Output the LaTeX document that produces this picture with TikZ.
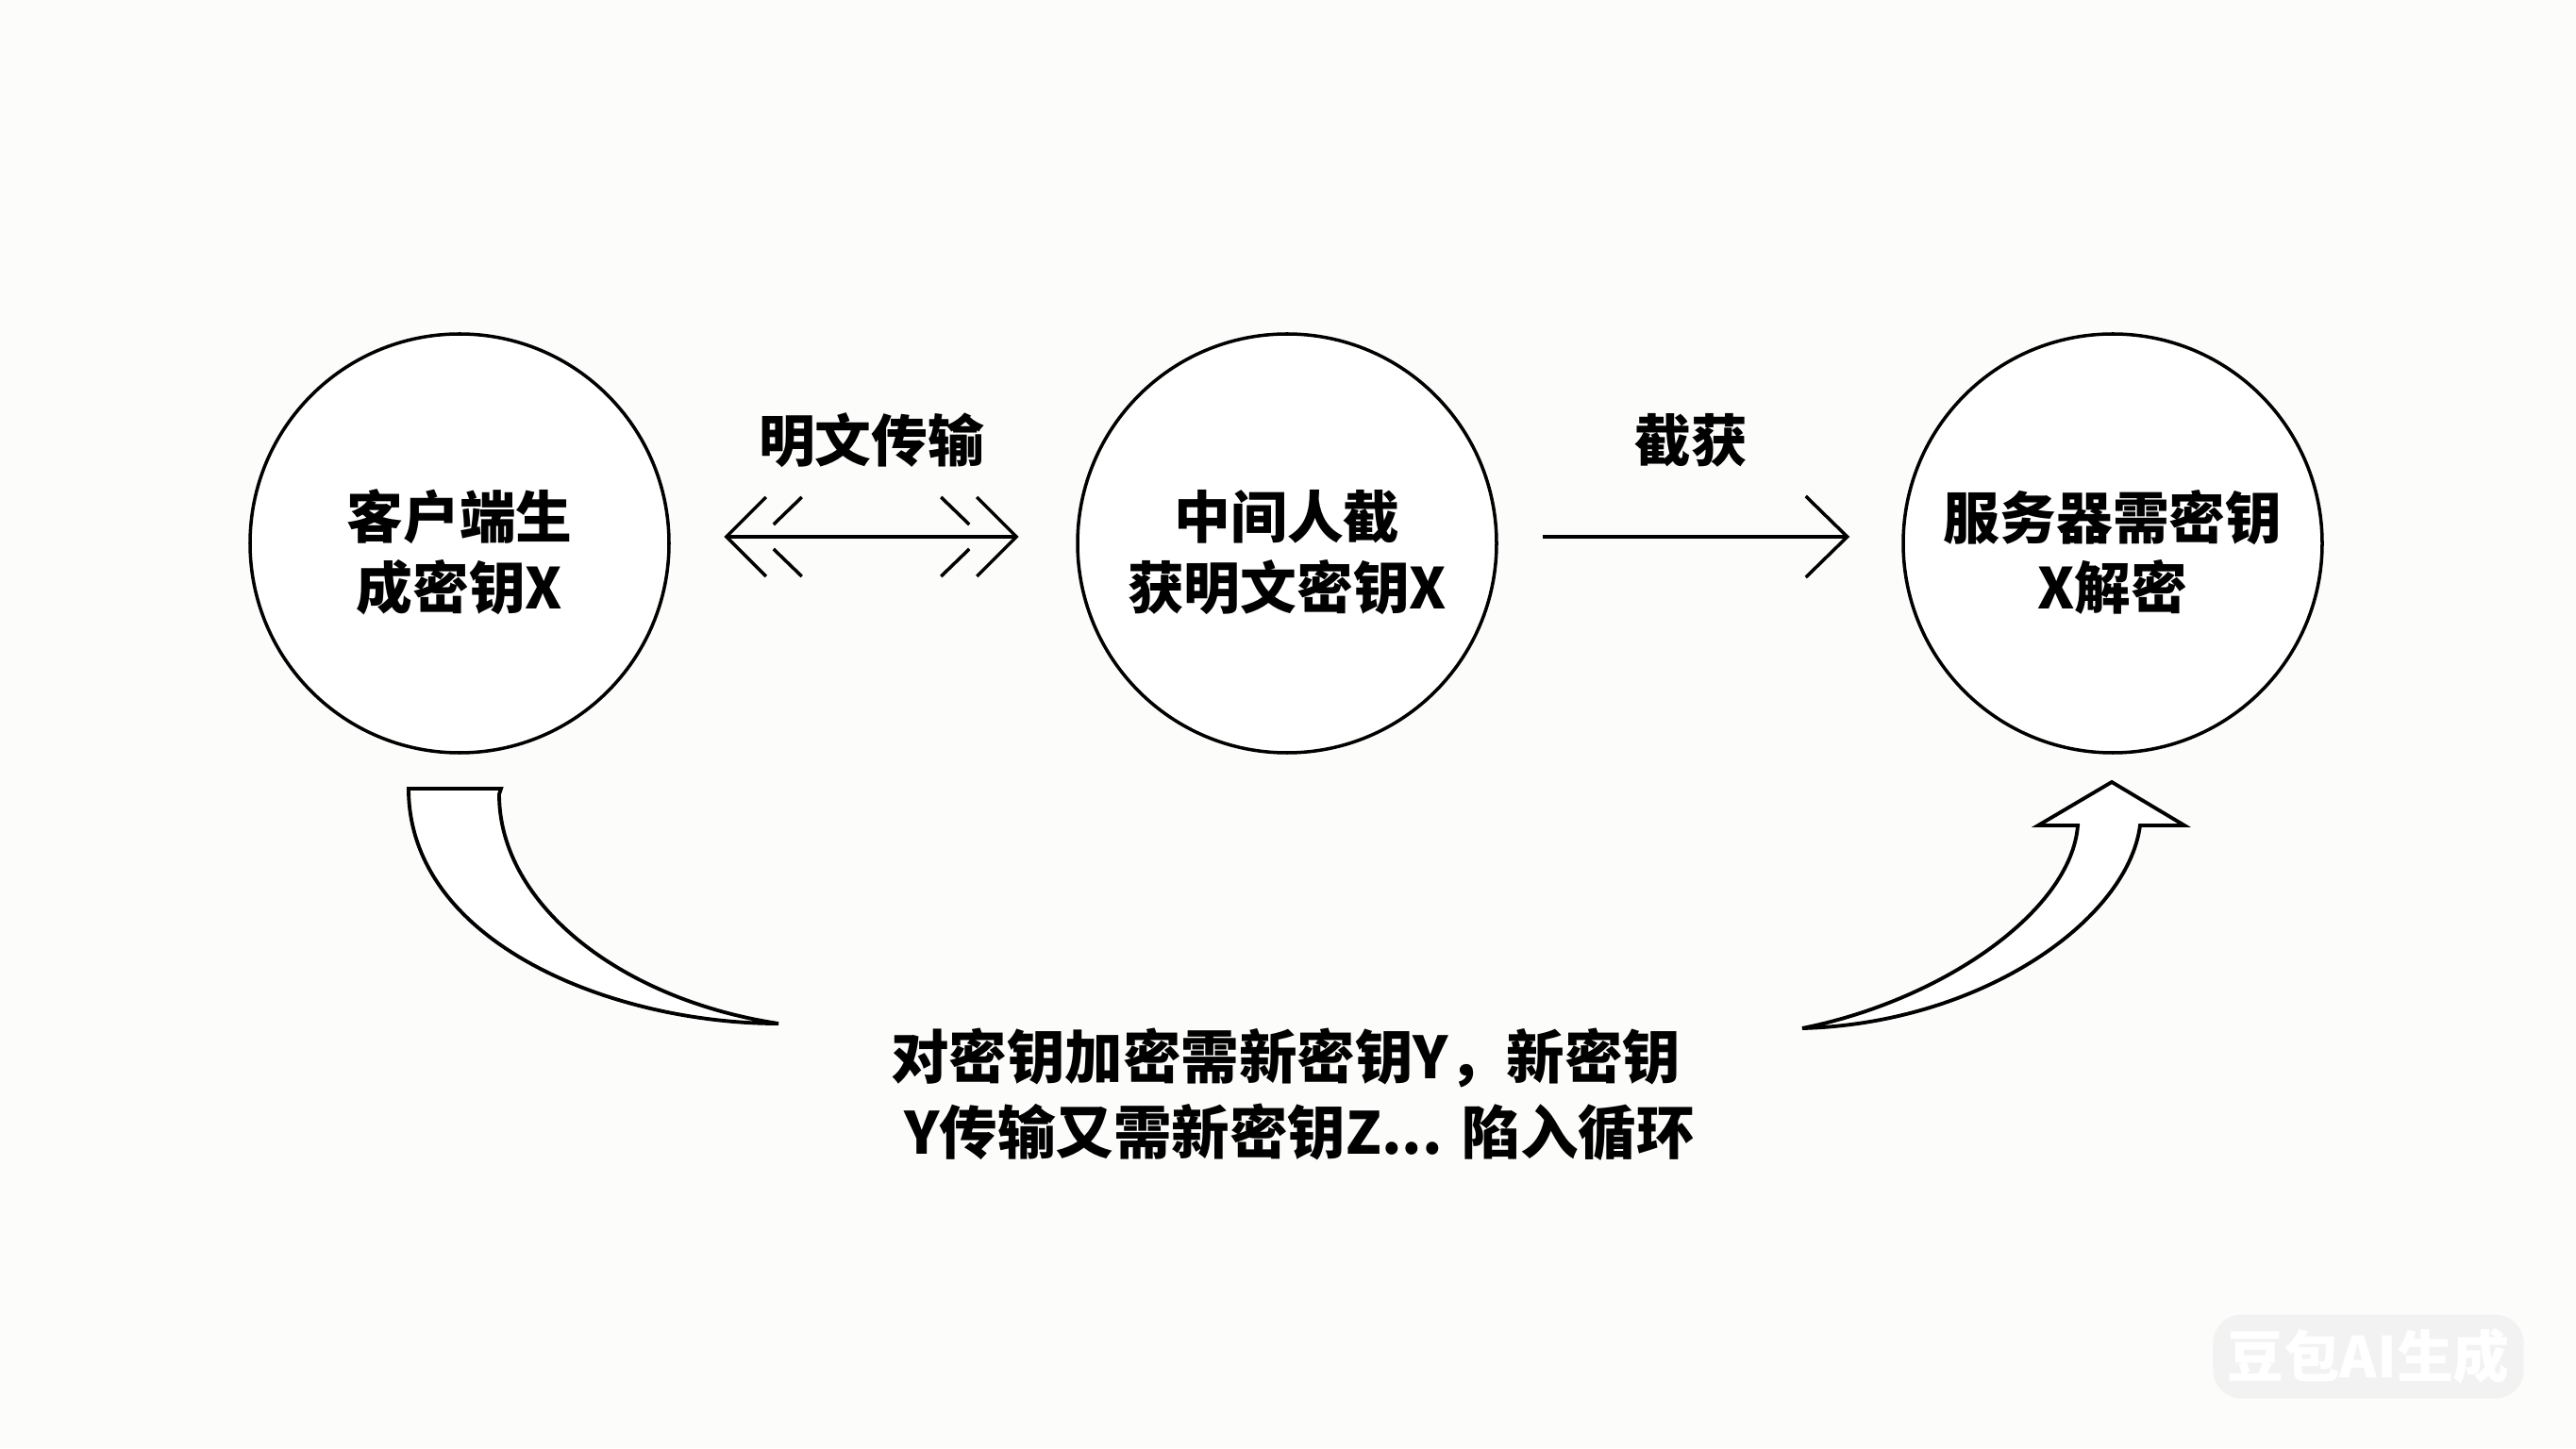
\documentclass[tikz,border=0pt]{standalone}
\usepackage{fontspec}
\newfontfamily\cjk{Noto Sans CJK SC}
\usetikzlibrary{arrows.meta}
\definecolor{paper}{RGB}{252,252,250}
\newcommand\topgap{\rule{0pt}{7.1mm}}
\begin{document}
\begin{tikzpicture}[
    line/.style={line width=1pt},
    stage/.style={circle,draw,line width=1pt,fill=white,minimum size=4.44cm,
      align=center,font=\cjk\bfseries\fontsize{17}{21.3}\selectfont},
    lbl/.style={font=\cjk\bfseries\fontsize{17}{20}\selectfont},
    note/.style={align=left,font=\cjk\bfseries\fontsize{17.5}{22.8}\selectfont},
    swoosh/.style={line width=1.1pt,fill=white,line join=miter}
  ]
    % Paper
    \useasboundingbox (0,0) rectangle (27.30,15.35);
    \fill[paper] (0,0) rectangle (27.30,15.35);

    % Three stages
    \node[stage] (client) at (4.87,9.59) {\topgap{}客户端生\\成密钥X};
    \node[stage] (mitm) at (13.64,9.59) {\topgap{}中间人截\\获明文密钥X};
    \node[stage] (server) at (22.39,9.59) {\topgap{}服务器需密钥\\X解密};

    % Plain transfer, double heads
    \coordinate (dl) at ([xshift=5.9mm,yshift=0.7mm]client.east);
    \coordinate (dr) at ([xshift=-6.3mm,yshift=0.7mm]mitm.west);
    \draw[line] (dl) -- (dr) node[midway,yshift=10.2mm,lbl] {明文传输};
    \foreach \p/\s in {dl/1,dr/-1} {
      \draw[line] ([shift={({0.42*\s},0.42)}]\p) -- (\p) -- ([shift={({0.42*\s},-0.42)}]\p);
      \draw[line] ([shift={({0.80*\s},0.42)}]\p) -- ([shift={({0.50*\s},0.13)}]\p);
      \draw[line] ([shift={({0.80*\s},-0.42)}]\p) -- ([shift={({0.50*\s},-0.13)}]\p);
    }

    % Interception
    \draw[line,-{Straight Barb[length=4.4mm,width=8.6mm]}]
      ([xshift=4.7mm,yshift=0.7mm]mitm.east) -- ([xshift=-5.5mm,yshift=0.7mm]server.west)
      node[midway,xshift=-0.5mm,yshift=10.2mm,lbl] {截获};

    % Endless loop
    \node[note] (loop) at (13.70,3.75) {对密钥加密需新密钥Y，新密钥\\\hspace*{1.4mm}Y传输又需新密钥Z...\,\,陷入循环};

    % Curved block arrows
    \draw[swoosh] (4.33,6.99) -- (5.31,6.99) -- (5.29,6.93)
      .. controls (5.29,5.75) and (6.60,4.75) .. (8.25,4.50)
      .. controls (6.50,4.50) and (4.33,5.35) .. cycle;
    \draw[swoosh] (19.10,4.45) .. controls (20.60,4.75) and (21.95,5.70) .. (22.02,6.60)
      -- (21.60,6.60) -- (22.38,7.06) -- (23.15,6.60) -- (22.68,6.60)
      .. controls (22.55,5.60) and (21.00,4.50) .. cycle;

    % Watermark
    \node[lbl,text=white,fill=black!5,rounded corners=3mm,inner sep=1.5mm] (wm) at (25.10,0.97) {豆包AI生成};
  \end{tikzpicture}
\end{document}
